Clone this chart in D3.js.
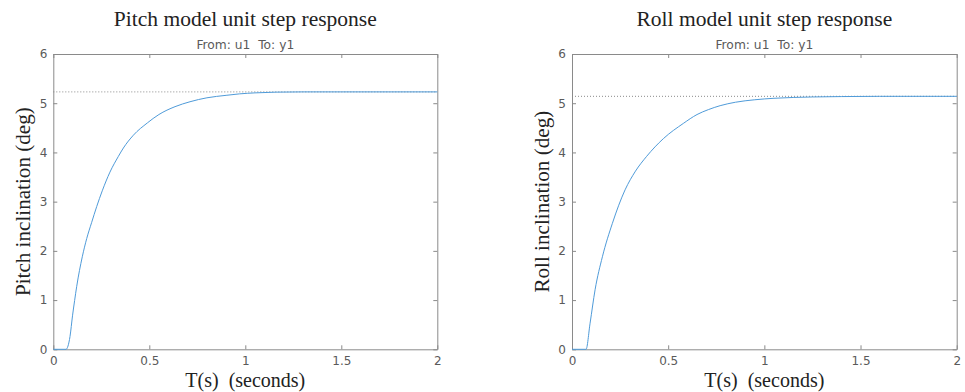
<!DOCTYPE html>
<html>
<head>
<meta charset="utf-8">
<script src="https://cdn.jsdelivr.net/npm/d3@7"></script>
<style>
  html, body { margin: 0; padding: 0; background: #fff; }
  svg { display: block; }
  text { white-space: pre; }
  .tick text { font-family: "DejaVu Sans", sans-serif; font-size: 12px; fill: #5a5a5a; }
  .tick line { stroke: #8a8a8a; }
  .domain { stroke: #8a8a8a; }
</style>
</head>
<body>
<svg id="chart" width="965" height="392"></svg>
<script>
// Step response of the pitch model (time in s, inclination in deg)
const pitchTime  = [0, 0.066, 0.087, 0.10, 0.111, 0.122, 0.151, 0.174, 0.20, 0.226, 0.255, 0.295, 0.339, 0.365, 0.417, 0.49, 0.55, 0.634, 0.712, 0.80, 0.90, 0.97, 1.05, 1.16, 1.30, 1.50, 1.75, 2.00];
const pitchValue = [0, 0, 0.26, 0.68, 0.99, 1.28, 1.88, 2.25, 2.58, 2.90, 3.22, 3.60, 3.92, 4.09, 4.35, 4.60, 4.77, 4.93, 5.03, 5.11, 5.16, 5.19, 5.21, 5.225, 5.23, 5.23, 5.23, 5.23];
const pitchFinal = 5.23;

// Step response of the roll model
const rollTime  = [0, 0.073, 0.094, 0.120, 0.158, 0.210, 0.276, 0.33, 0.388, 0.475, 0.579, 0.65, 0.709, 0.77, 0.85, 0.95, 1.05, 1.15, 1.25, 1.40, 1.60, 2.00];
const rollValue = [0, 0, 0.53, 1.21, 1.88, 2.56, 3.24, 3.62, 3.92, 4.28, 4.59, 4.77, 4.87, 4.95, 5.02, 5.07, 5.10, 5.117, 5.127, 5.135, 5.14, 5.14];
const rollFinal = 5.14;

const xTicks = [0, 0.5, 1, 1.5, 2];
const yTicks = [0, 1, 2, 3, 4, 5, 6];

const titles  = ["Pitch model unit step response", "Roll model unit step response"];
const yLabels = ["Pitch inclination (deg)", "Roll inclination (deg)"];
const subTitle = "From: u1  To: y1";
const xLabel = "T(s)  (seconds)";

const svg = d3.select("#chart");

const panels = [
  { left: 53.3, right: 437.3, t: pitchTime, v: pitchValue, final: pitchFinal, title: titles[0], ylab: yLabels[0], ylabX: 30 },
  { left: 572,  right: 956.7, t: rollTime,  v: rollValue,  final: rollFinal,  title: titles[1], ylab: yLabels[1], ylabX: 549 }
];
const plotTop = 54, plotBottom = 349.3;
const serif = "'Liberation Serif', 'DejaVu Serif', serif";
const sans = "'DejaVu Sans', sans-serif";

// font size that makes a text run span the given width
function fitSize(str, family, width) {
  const probe = svg.append("text").attr("font-family", family).attr("font-size", 20).text(str);
  const w = probe.node().getComputedTextLength();
  probe.remove();
  return 20 * width / w;
}
const titleSize = fitSize(titles[0], serif, 263);
const subSize = fitSize(subTitle, sans, 98);
const xLabSize = fitSize(xLabel, serif, 120);
const yLabSize = fitSize(yLabels[0], serif, 189);

panels.forEach(p => {
  const x = d3.scaleLinear().domain([0, 2]).range([p.left, p.right]);
  const y = d3.scaleLinear().domain([0, 6]).range([plotBottom, plotTop]);
  const g = svg.append("g");
  const fmt = d3.format("~g");

  // box with ticks pointing inward on every side
  g.append("g").attr("transform", `translate(0,${plotBottom})`)
    .call(d3.axisBottom(x).tickValues(xTicks).tickFormat(fmt).tickSizeInner(-4).tickSizeOuter(0).tickPadding(7));
  g.append("g").attr("transform", `translate(0,${plotTop})`)
    .call(d3.axisTop(x).tickValues(xTicks).tickFormat("").tickSizeInner(-4).tickSizeOuter(0));
  g.append("g").attr("transform", `translate(${p.left},0)`)
    .call(d3.axisLeft(y).tickValues(yTicks).tickFormat(fmt).tickSizeInner(-4).tickSizeOuter(0).tickPadding(6));
  g.append("g").attr("transform", `translate(${p.right},0)`)
    .call(d3.axisRight(y).tickValues(yTicks).tickFormat("").tickSizeInner(-4).tickSizeOuter(0));
  g.selectAll(".tick line").attr("stroke", "#8a8a8a");

  // steady-state level
  g.append("line")
    .attr("x1", x(0)).attr("x2", x(2))
    .attr("y1", y(p.final)).attr("y2", y(p.final))
    .attr("stroke", "#8a8a8a").attr("stroke-width", 1)
    .attr("stroke-dasharray", "1,2");

  // response curve
  const pts = p.t.map((t, i) => [t, p.v[i]]);
  g.append("path")
    .datum(pts)
    .attr("fill", "none")
    .attr("stroke", "#4f9bd9")
    .attr("stroke-width", 1)
    .attr("d", d3.line().x(d => x(d[0])).y(d => y(d[1])).curve(d3.curveMonotoneX));

  const cx = (p.left + p.right) / 2;
  g.append("text").attr("x", cx).attr("y", 26)
    .attr("text-anchor", "middle").attr("font-family", serif).attr("font-size", titleSize)
    .attr("fill", "#222").text(p.title);
  g.append("text").attr("x", cx).attr("y", 49)
    .attr("text-anchor", "middle").attr("font-family", sans).attr("font-size", subSize)
    .attr("fill", "#5a5a5a").text(subTitle);
  g.append("text").attr("x", cx).attr("y", 386.5)
    .attr("text-anchor", "middle").attr("font-family", serif).attr("font-size", xLabSize)
    .attr("fill", "#222").text(xLabel);
  g.append("text")
    .attr("transform", `translate(${p.ylabX},${(plotTop + plotBottom) / 2}) rotate(-90)`)
    .attr("text-anchor", "middle").attr("font-family", serif).attr("font-size", yLabSize)
    .attr("fill", "#222").text(p.ylab);
});
</script>
</body>
</html>
